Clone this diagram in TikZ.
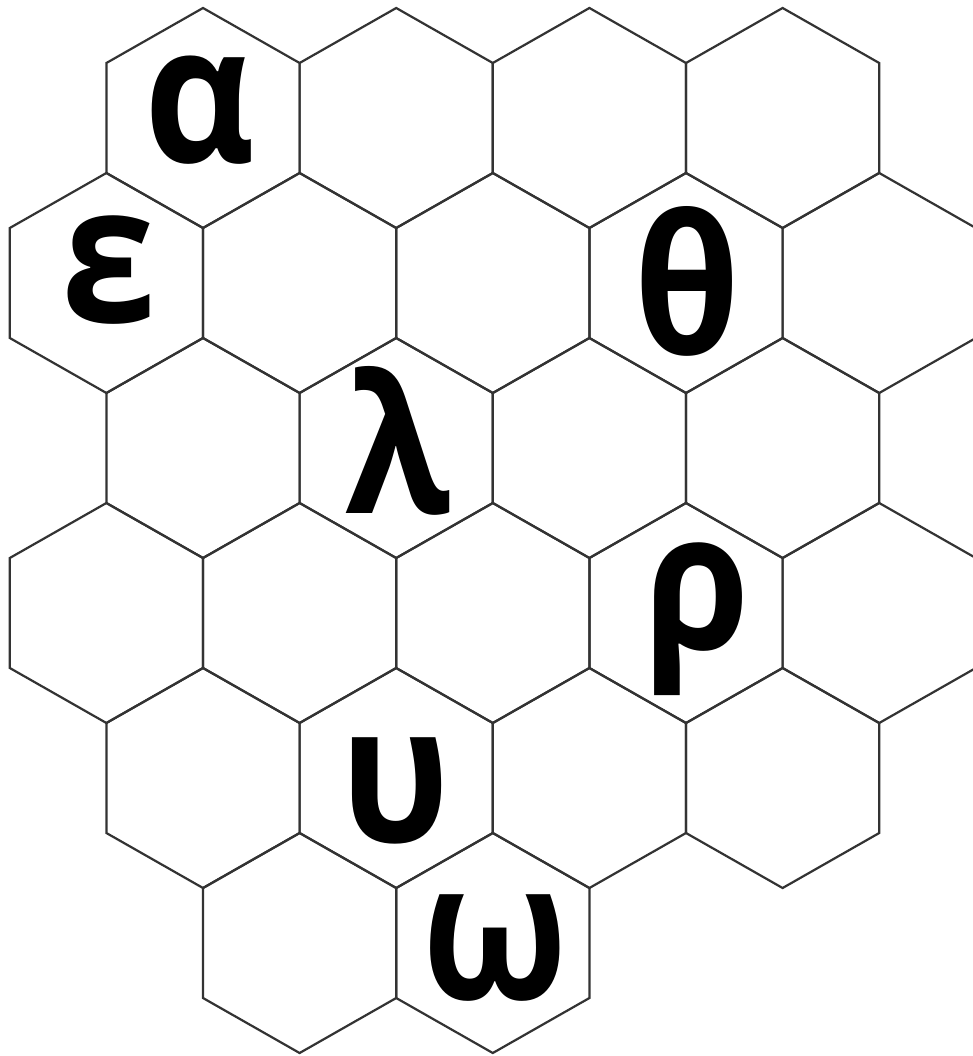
\documentclass[tikz,border=0pt]{standalone}
\usepackage{fontspec}
\newfontfamily\greekfont{Open Sans}
\newcommand\narrowglyph[1]{\scalebox{0.89}[1]{#1}}
\tikzset{
  hexline/.style={draw=black!80, line width=2.2pt, line join=miter},
  letter/.style={inner sep=0pt, outer sep=0pt, anchor=base, font=\greekfont\bfseries\fontsize{192}{192}\selectfont}
}
\begin{document}
\begin{tikzpicture}[x=1pt,y=-1pt]
\useasboundingbox (0,0) rectangle (973,1056);
\fill[white] (0,0) rectangle (973,1056);
\clip (0,0) rectangle (973,1056);
% hexagon grid: list of centre x / centre y
\foreach \cx/\cy in {
  203/118, 396.2/118, 589.4/118, 782.6/118,
  106.4/283, 299.6/283, 492.8/283, 686/283, 879.2/283,
  203/448, 396.2/448, 589.4/448, 782.6/448,
  106.4/613, 299.6/613, 492.8/613, 686/613, 879.2/613,
  203/778, 396.2/778, 589.4/778, 782.6/778,
  299.6/943, 492.8/943}
{
  \draw[hexline] ({\cx},{\cy-110}) -- ({\cx+96.6},{\cy-55}) -- ({\cx+96.6},{\cy+55})
    -- ({\cx},{\cy+110}) -- ({\cx-96.6},{\cy+55}) -- ({\cx-96.6},{\cy-55}) -- cycle;
}
\node[letter] (alpha)   at (200,163) {\narrowglyph{α}};
\node[letter] (epsilon) at (109,322) {\narrowglyph{ε}};
\node[letter] (theta)   at (687,354) {\narrowglyph{θ}};
\node[letter] (lambda)  at (398,513) {\narrowglyph{λ}};
\node[letter] (rho)     at (697,649) {\narrowglyph{ρ}};
\node[letter] (upsilon) at (396,842) {\narrowglyph{υ}};
\node[letter] (omega)   at (495,999) {\narrowglyph{ω}};
\end{tikzpicture}
\end{document}
